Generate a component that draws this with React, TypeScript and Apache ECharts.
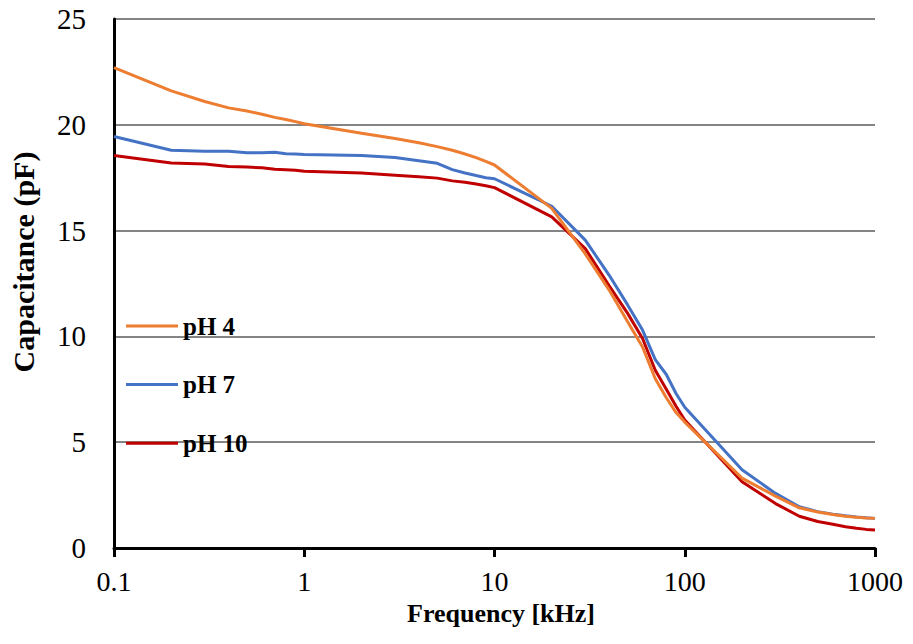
import React, { useEffect, useRef } from "react";
import * as echarts from "echarts";

const frequencies = [
  0.1, 0.2, 0.3, 0.4, 0.5, 0.6, 0.7, 0.8, 0.9,
  1, 2, 3, 4, 5, 6, 7, 8, 9,
  10, 20, 30, 40, 50, 60, 70, 80, 90,
  100, 200, 300, 400, 500, 600, 700, 800, 900,
  1000,
];

const pH4 = [
  22.7, 21.6, 21.1, 20.8, 20.65, 20.5, 20.35, 20.25, 20.15,
  20.05, 19.6, 19.35, 19.15, 18.97, 18.8, 18.62, 18.45, 18.27,
  18.1, 16.05, 13.9, 12.2, 10.7, 9.5, 8.0, 7.1, 6.4,
  5.95, 3.3, 2.45, 1.9, 1.7, 1.58, 1.5, 1.45, 1.42,
  1.4,
];

const pH7 = [
  19.45, 18.8, 18.75, 18.75, 18.68, 18.68, 18.7, 18.63, 18.62,
  18.6, 18.55, 18.45, 18.3, 18.18, 17.88, 17.72, 17.6, 17.5,
  17.45, 16.15, 14.55, 12.9, 11.5, 10.3, 8.9, 8.2, 7.3,
  6.65, 3.7, 2.58, 1.95, 1.72, 1.6, 1.52, 1.47, 1.43,
  1.4,
];

const pH10 = [
  18.55, 18.2, 18.15, 18.03, 18.0, 17.97, 17.9, 17.88, 17.85,
  17.8, 17.72, 17.62, 17.55, 17.48, 17.35, 17.28, 17.2, 17.12,
  17.03, 15.65, 14.15, 12.4, 11.1, 9.9, 8.4, 7.5, 6.7,
  6.05, 3.13, 2.1, 1.5, 1.25, 1.12, 1.0, 0.93, 0.88,
  0.85,
];

const seriesNames = ["pH 4", "pH 7", "pH 10"];
const seriesColors = ["#ED7D31", "#4472C4", "#C00000"];
const xTickLabels = ["0.1", "1", "10", "100", "1000"];
const xTitle = "Frequency [kHz]";
const yTitle = "Capacitance (pF)";

const FONT = "Liberation Serif";

export default function App() {
  const ref = useRef<HTMLDivElement>(null);

  useEffect(() => {
    if (!ref.current) return;
    const chart = echarts.init(ref.current, undefined, { renderer: "svg" });
    const allValues = [pH4, pH7, pH10];
    chart.setOption({
      animation: false,
      backgroundColor: "#ffffff",
      grid: { left: 114, right: 38, top: 19, bottom: 96, containLabel: false },
      legend: {
        orient: "vertical",
        left: 126,
        top: 313.5,
        padding: 0,
        itemWidth: 52,
        itemHeight: 3,
        itemGap: 33.6,
        icon: "rect",
        selectedMode: false,
        data: seriesNames,
        textStyle: {
          fontFamily: FONT,
          fontSize: 25,
          lineHeight: 25,
          fontWeight: "bold",
          color: "#000",
        },
      },
      xAxis: {
        type: "log",
        logBase: 10,
        min: 0.1,
        max: 1000,
        axisLine: { show: true, lineStyle: { color: "#000", width: 3 } },
        axisTick: { show: true, length: 9, lineStyle: { color: "#000", width: 3 } },
        minorTick: { show: false },
        splitLine: { show: false },
        axisLabel: {
          fontFamily: FONT,
          fontSize: 28,
          lineHeight: 22,
          color: "#000",
          margin: 22,
          formatter: (v: number) => {
            const i = Math.round(Math.log10(v)) + 1;
            return xTickLabels[i] ?? String(v);
          },
        },
      },
      yAxis: {
        type: "value",
        min: 0,
        max: 25,
        interval: 5,
        axisLine: { show: true, lineStyle: { color: "#000", width: 3 } },
        axisTick: { show: false },
        splitLine: { show: true, lineStyle: { color: "#848484", width: 2 } },
        axisLabel: {
          fontFamily: FONT,
          fontSize: 29,
          color: "#000",
          margin: 28,
        },
      },
      graphic: [
        {
          type: "text",
          x: 501,
          y: 613,
          style: {
            text: xTitle,
            fontFamily: FONT,
            fontSize: 26,
            lineHeight: 20,
            fontWeight: "bold",
            fill: "#000",
            textAlign: "center",
            textVerticalAlign: "middle",
          },
        },
        {
          type: "text",
          x: 23,
          y: 262,
          rotation: Math.PI / 2,
          style: {
            text: yTitle,
            fontFamily: FONT,
            fontSize: 30,
            fontWeight: "bold",
            fill: "#000",
            textAlign: "center",
            textVerticalAlign: "middle",
          },
        },
      ],
      series: seriesNames.map((name, si) => ({
        name,
        type: "line",
        showSymbol: false,
        symbol: "none",
        smooth: false,
        color: seriesColors[si],
        lineStyle: { color: seriesColors[si], width: 3 },
        data: frequencies.map((f, i) => [f, allValues[si][i]]),
        z: 5 - si,
      })),
    });
    return () => chart.dispose();
  }, []);

  return (
    <div
      ref={ref}
      style={{ position: "fixed", left: 0, top: 0, width: 913, height: 644 }}
    />
  );
}
